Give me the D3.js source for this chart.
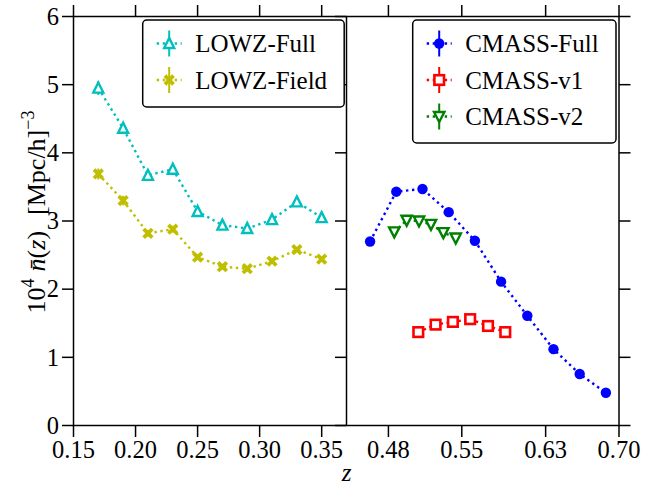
<!DOCTYPE html>
<html><head><meta charset="utf-8">
<script src="https://cdn.jsdelivr.net/npm/d3@7"></script>
<style>body{margin:0;background:#fff}svg{display:block}text{font-family:"Liberation Serif","Times New Roman",serif;fill:#000}</style>
</head><body><svg id="c" width="664" height="488"></svg>
<script>
// ---- data ----
const lowzZ = [0.17, 0.19, 0.21, 0.23, 0.25, 0.27, 0.29, 0.31, 0.33, 0.35];
const lowzFull = [4.95, 4.36, 3.67, 3.76, 3.14, 2.94, 2.89, 3.02, 3.28, 3.05];
const lowzFullErr = [0.10, 0.08, 0.06, 0.06, 0.05, 0.05, 0.05, 0.05, 0.05, 0.05];
const lowzField = [3.69, 3.30, 2.82, 2.88, 2.47, 2.33, 2.30, 2.41, 2.58, 2.44];
const lowzFieldErr = [0.08, 0.07, 0.05, 0.05, 0.04, 0.04, 0.04, 0.04, 0.04, 0.04];
const cmassZ = [0.4625, 0.4875, 0.5125, 0.5375, 0.5625, 0.5875, 0.6125, 0.6375, 0.6625, 0.6875];
const cmassFull = [2.70, 3.43, 3.47, 3.13, 2.71, 2.11, 1.61, 1.12, 0.755, 0.48];
const cmassFullErr = [0.02, 0.02, 0.02, 0.02, 0.02, 0.02, 0.02, 0.02, 0.02, 0.02];
const cmassV1Z = [0.5085, 0.525, 0.5415, 0.558, 0.575, 0.5915];
const cmassV1 = [1.37, 1.48, 1.52, 1.56, 1.46, 1.37];
const cmassV2Z = [0.4856, 0.4974, 0.5092, 0.5206, 0.5324, 0.5442];
const cmassV2 = [2.84, 3.01, 3.00, 2.95, 2.83, 2.75];
const yTicks = [0, 1, 2, 3, 4, 5, 6];
const leftXTicks = [0.15, 0.20, 0.25, 0.30, 0.35];
const rightXTicks = [0.48, 0.55, 0.63, 0.70];

// ---- layout ----
const svg = d3.select("#c");
const T0 = 16.5, B0 = 425.5, L0 = 73.5, MID = 346.5, R1 = 619;
const y = d3.scaleLinear().domain([0, 6]).range([B0, T0]);
const xL = d3.scaleLinear().domain([0.15, 0.37]).range([L0, MID]);
const xR = d3.scaleLinear().domain([0.44, 0.70]).range([MID, R1]);

const C = {c: "#00bfbf", y: "#bfbf00", b: "#0000ff", r: "#ff0000", g: "#008000"};

function marker(g, type, color) {
  if (type === "tri") {
    g.append("path").attr("d", "M0,-5.5L-5,4.5L5,4.5Z").attr("fill", "#fff").attr("stroke", color).attr("stroke-width", 2.4);
  } else if (type === "vtri") {
    g.append("path").attr("d", "M0,5.5L-5.2,-4.5L5.2,-4.5Z").attr("fill", "#fff").attr("stroke", color).attr("stroke-width", 2.4);
  } else if (type === "x") {
    g.append("path").attr("d", "M-4.3,-4.3L4.3,4.3M-4.3,4.3L4.3,-4.3").attr("stroke", color).attr("stroke-width", 3.8);
  } else if (type === "circ") {
    g.append("circle").attr("r", 5.2).attr("fill", color);
  } else if (type === "sq") {
    g.append("rect").attr("x", -4.8).attr("y", -4.8).attr("width", 9.6).attr("height", 9.6).attr("fill", "#fff").attr("stroke", color).attr("stroke-width", 2.6);
  }
}

function series(xs, ys, errs, xsc, type, color) {
  const g = svg.append("g");
  const line = d3.line().x((d, i) => xsc(xs[i])).y(d => y(d));
  g.append("path").attr("d", line(ys)).attr("fill", "none").attr("stroke", color)
    .attr("stroke-width", 2.4).attr("stroke-dasharray", "2.4,3.6");
  ys.forEach((v, i) => {
    const e = errs ? errs[i] : 0.02;
    g.append("line").attr("x1", xsc(xs[i])).attr("x2", xsc(xs[i]))
      .attr("y1", y(v - e)).attr("y2", y(v + e)).attr("stroke", color).attr("stroke-width", 2);
    marker(g.append("g").attr("transform", `translate(${xsc(xs[i])},${y(v)})`), type, color);
  });
}

series(lowzZ, lowzFull, lowzFullErr, xL, "tri", C.c);
series(lowzZ, lowzField, lowzFieldErr, xL, "x", C.y);
series(cmassZ, cmassFull, cmassFullErr, xR, "circ", C.b);
series(cmassV1Z, cmassV1, null, xR, "sq", C.r);
series(cmassV2Z, cmassV2, null, xR, "vtri", C.g);

// ---- axes / frames ----
const ax = svg.append("g").attr("stroke", "#000").attr("stroke-width", 1.5);
ax.append("rect").attr("x", L0).attr("y", T0).attr("width", R1 - L0).attr("height", B0 - T0).attr("fill", "none");
ax.append("line").attr("x1", MID).attr("x2", MID).attr("y1", T0).attr("y2", B0);

const tl = 11.5;
yTicks.forEach(t => {
  ax.append("line").attr("x1", L0 - tl).attr("x2", L0).attr("y1", y(t)).attr("y2", y(t));
  ax.append("line").attr("x1", MID - tl).attr("x2", MID).attr("y1", y(t)).attr("y2", y(t));
  ax.append("line").attr("x1", R1).attr("x2", R1 + tl).attr("y1", y(t)).attr("y2", y(t));
  svg.append("text").attr("x", 59).attr("y", y(t)).attr("dy", "0.34em").attr("text-anchor", "end")
    .attr("font-size", 24.5).text(d3.format("d")(t));
});
function xt(ticks, sc) {
  ticks.forEach(t => {
    const px = sc(t);
    ax.append("line").attr("x1", px).attr("x2", px).attr("y1", B0).attr("y2", B0 + tl);
    ax.append("line").attr("x1", px).attr("x2", px).attr("y1", T0 - tl).attr("y2", T0);
    svg.append("text").attr("x", px).attr("y", 458).attr("text-anchor", "middle")
      .attr("font-size", 24.5).text(d3.format(".2f")(t));
  });
}
xt(leftXTicks, xL);
xt(rightXTicks, xR);

// axis labels
svg.append("text").attr("x", MID).attr("y", 481).attr("text-anchor", "middle")
  .attr("font-size", 25).attr("font-style", "italic").text("z");
const yl = svg.append("text").attr("transform", "translate(45,212) rotate(-90)")
  .attr("text-anchor", "middle").attr("font-size", 26);
yl.append("tspan").text("10");
yl.append("tspan").attr("font-size", 18).attr("dy", -11).text("4");
yl.append("tspan").attr("dy", 11).attr("dx", 7).attr("font-style", "italic").text("n\u0304");
yl.append("tspan").text("(");
yl.append("tspan").attr("font-style", "italic").text("z");
yl.append("tspan").text(")");
yl.append("tspan").attr("dx", 16).text("[Mpc/h]");
yl.append("tspan").attr("font-size", 18).attr("dy", -11).text("\u22123");

// ---- legends ----
function legend(x0, y0, w, h, items) {
  svg.append("rect").attr("x", x0).attr("y", y0).attr("width", w).attr("height", h)
    .attr("rx", 4).attr("fill", "#fff").attr("stroke", "#000").attr("stroke-width", 1.5);
  items.forEach((it, i) => {
    const cy = y0 + 23.5 + i * 36.5;
    const mx = x0 + 26.5;
    svg.append("line").attr("x1", mx - 12.5).attr("x2", mx + 12.5).attr("y1", cy).attr("y2", cy)
      .attr("stroke", it.color).attr("stroke-width", 2.4).attr("stroke-dasharray", "2.4,3.6");
    svg.append("line").attr("x1", mx).attr("x2", mx).attr("y1", cy - 13).attr("y2", cy + 13)
      .attr("stroke", it.color).attr("stroke-width", 2);
    marker(svg.append("g").attr("transform", `translate(${mx},${cy})`), it.type, it.color);
    svg.append("text").attr("x", x0 + 52.5).attr("y", cy).attr("dy", "0.35em")
      .attr("font-size", 25).text(it.label);
  });
}
legend(142.7, 20, 201.5, 87, [
  {label: "LOWZ-Full", type: "tri", color: C.c},
  {label: "LOWZ-Field", type: "x", color: C.y}
]);
legend(412.7, 20, 203.3, 123, [
  {label: "CMASS-Full", type: "circ", color: C.b},
  {label: "CMASS-v1", type: "sq", color: C.r},
  {label: "CMASS-v2", type: "vtri", color: C.g}
]);
</script></body></html>
